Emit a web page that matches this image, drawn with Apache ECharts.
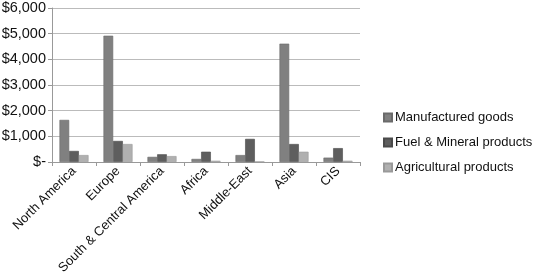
<!DOCTYPE html>
<html><head><meta charset="utf-8">
<script src="https://cdn.jsdelivr.net/npm/echarts@6/dist/echarts.min.js"></script>
<style>html,body{margin:0;padding:0;background:#fff}#c{width:536px;height:274px}</style>
</head><body><div id="c"></div>
<script>
var categories = ["North America","Europe","South & Central America","Africa","Middle-East","Asia","CIS"];
var manufactured = [1640, 4920, 200, 120, 270, 4610, 170];
var fuel = [430, 820, 300, 400, 900, 700, 540];
var agricultural = [270, 700, 230, 50, 15, 400, 50];
var seriesNames = ["Manufactured goods","Fuel & Mineral products","Agricultural products"];
var yTicks = [0,1000,2000,3000,4000,5000,6000];

var font = "Liberation Sans";
var chart = echarts.init(document.getElementById('c'));
function fmt(v){ return v === 0 ? "$-" : "$" + v.toLocaleString('en-US'); }
function s(name, data, color, border){
  return {name:name, type:'bar', data:data, barGap:'0%', barCategoryGap:'34%',
    itemStyle:{color:color, borderColor:border, borderWidth:0.6}};
}
chart.setOption({
  animation:false,
  textStyle:{fontFamily:font},
  grid:{left:52, right:176, top:8, bottom:112, containLabel:false, outerBoundsMode:'none'},
  legend:{orient:'vertical', left:378, top:106, itemWidth:8, itemHeight:8, itemGap:12,
    icon:'rect', textStyle:{fontSize:13, color:'#111', fontFamily:font, padding:[0,0,0,-2]},
    data:seriesNames},
  xAxis:{type:'category', data:categories,
    axisLine:{lineStyle:{color:'#999'}},
    axisTick:{show:true, length:4, lineStyle:{color:'#999'}},
    axisLabel:{rotate:45, interval:0, fontSize:13, color:'#111', margin:7, fontFamily:font}},
  yAxis:{type:'value', min:yTicks[0], max:yTicks[yTicks.length-1], interval:1000,
    axisLine:{show:true, lineStyle:{color:'#999'}},
    axisTick:{show:true, length:4, lineStyle:{color:'#999'}},
    splitLine:{lineStyle:{color:'#bbb'}},
    axisLabel:{formatter:fmt, fontSize:14.5, color:'#111', margin:6, fontFamily:font}},
  series:[
    s(seriesNames[0], manufactured, '#808080', '#6a6a6a'),
    s(seriesNames[1], fuel, '#5e5e5e', '#4a4a4a'),
    s(seriesNames[2], agricultural, '#b0b0b0', '#999999')
  ]
});
</script></body></html>
